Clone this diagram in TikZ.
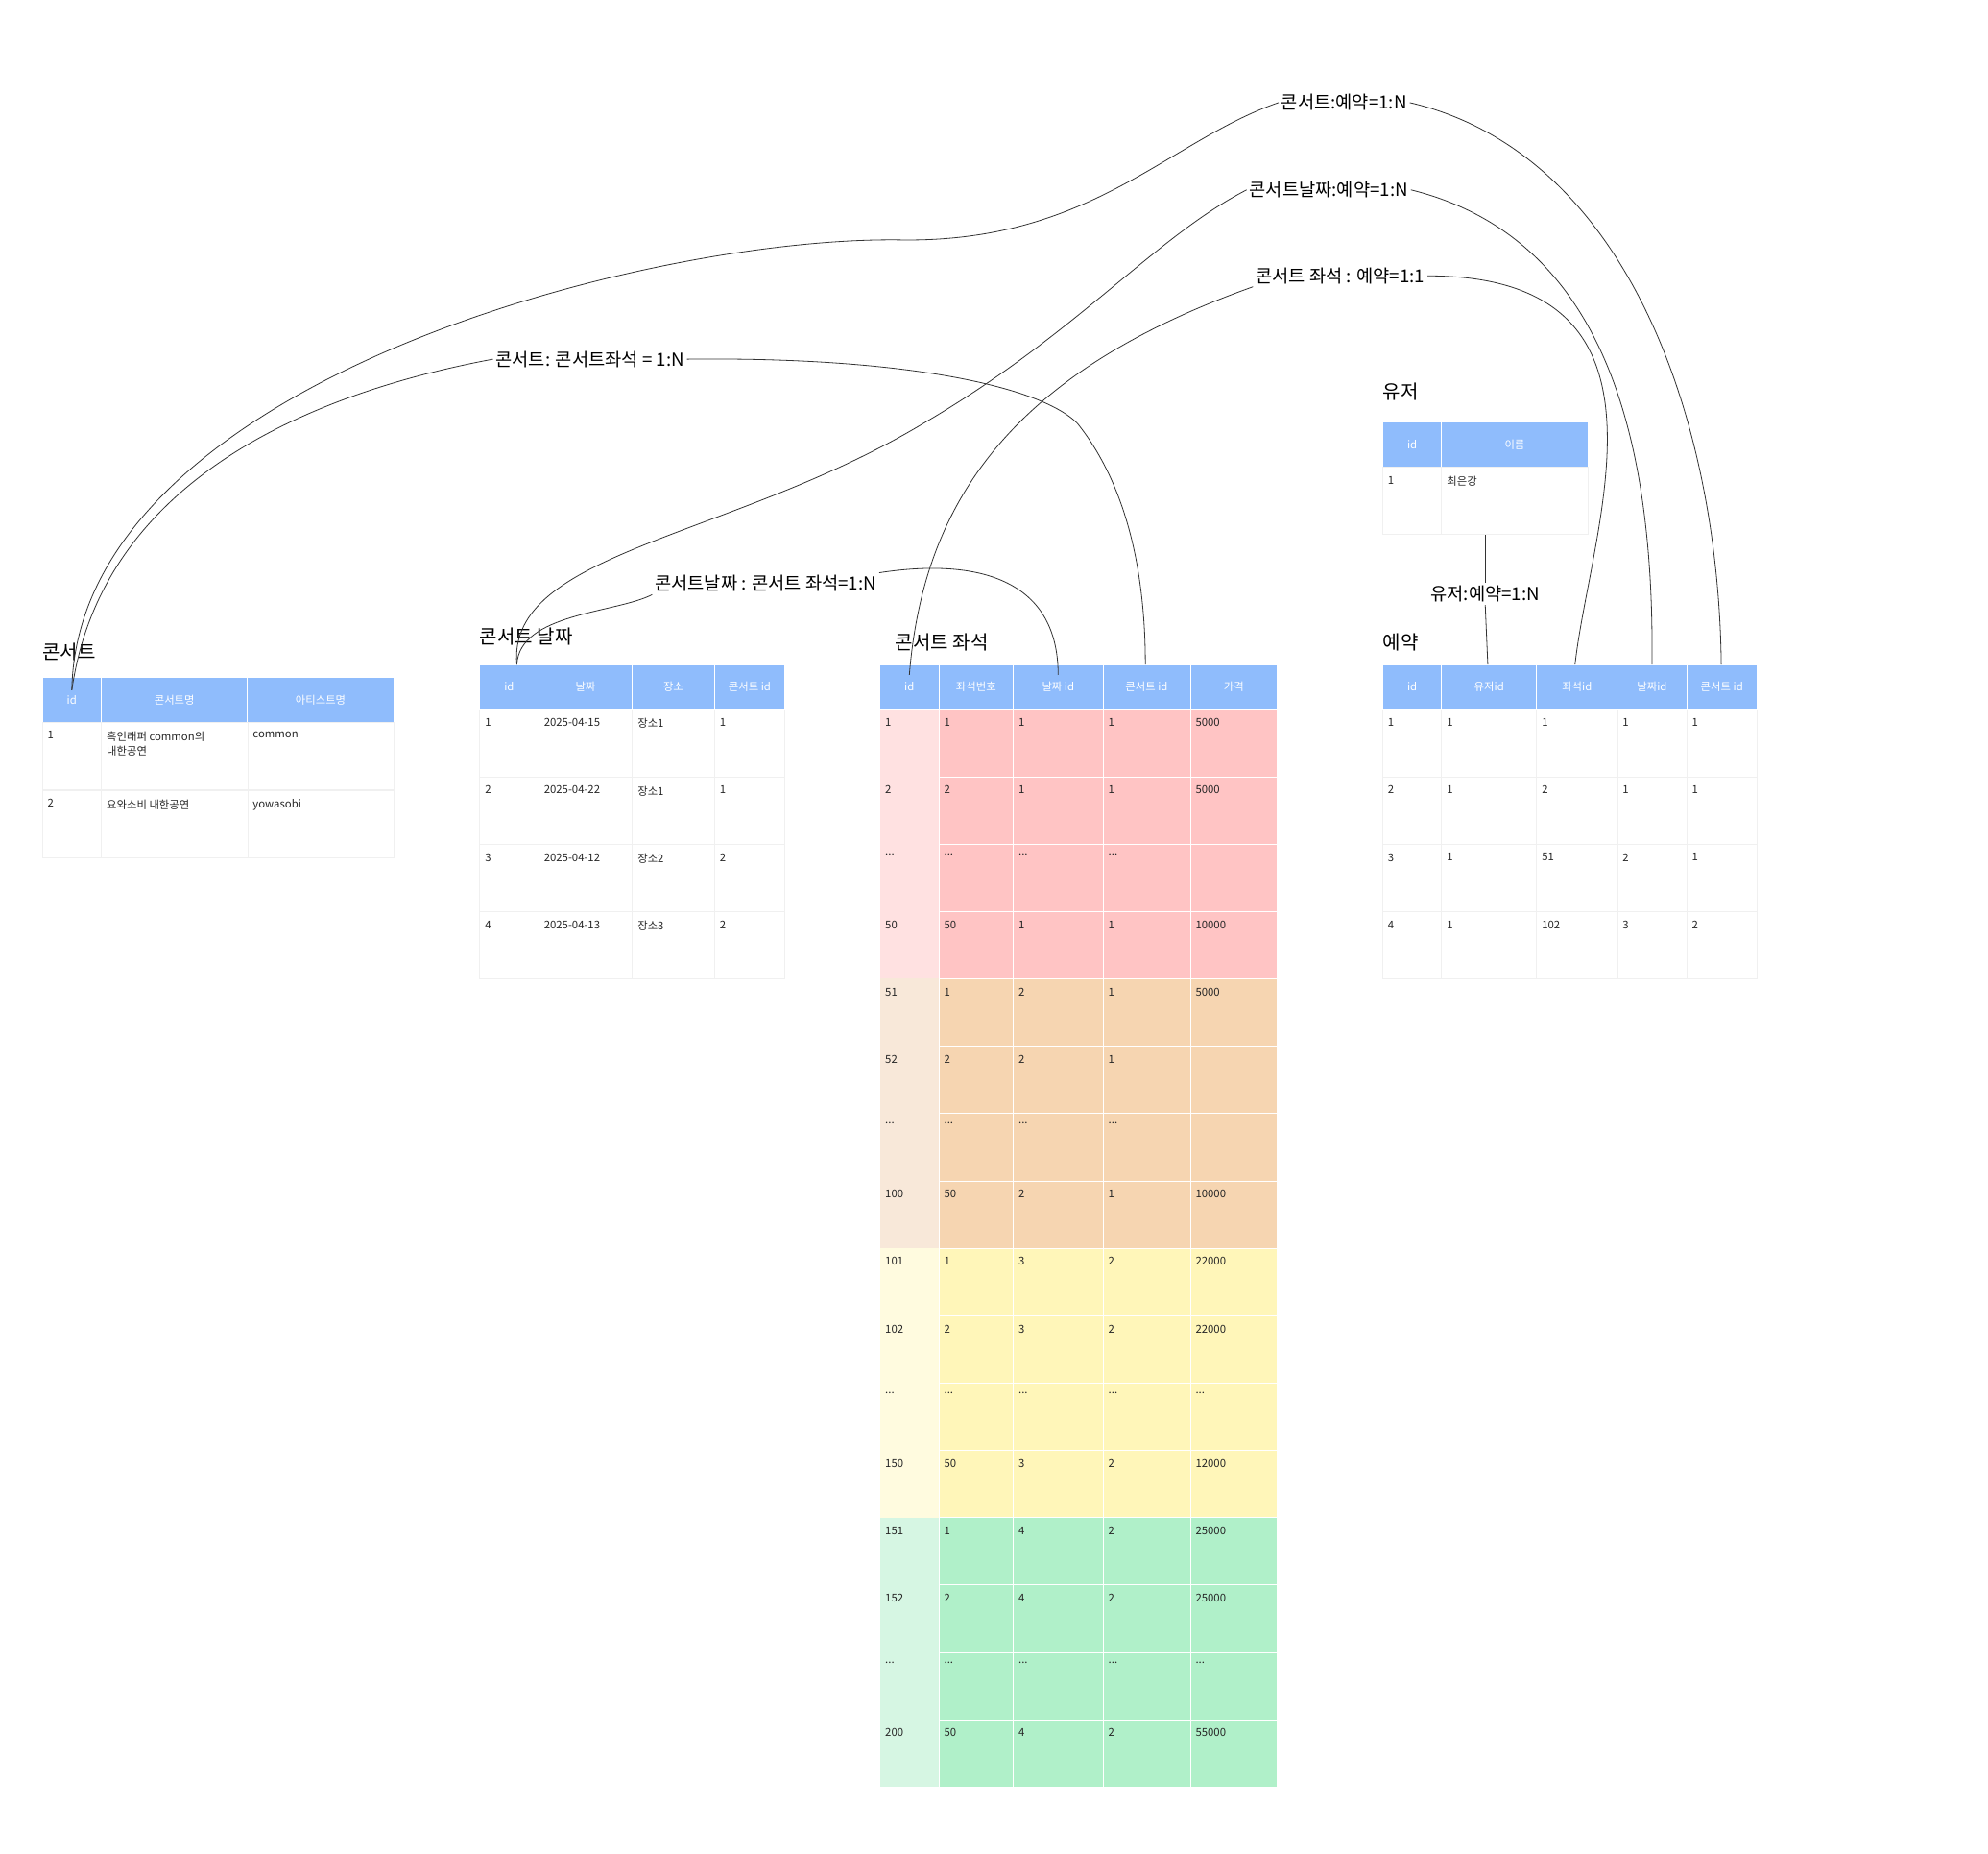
\documentclass[tikz,border=0pt]{standalone}
\usepackage{fontspec}
\setmainfont{Noto Sans CJK KR}
\newcommand\dotsx{...}
\begin{document}
\begin{tikzpicture}[x=1pt,y=-1pt,
  hdr/.style={fill=hd,draw=white,line width=0.6pt},
  cell/.style={draw=gl,line width=0.5pt},
  ctext/.style={anchor=north west,font=\fontsize{8.5}{11}\selectfont,inner sep=0pt,align=left,text=black!85},
  htext/.style={font=\fontsize{8.5}{10}\selectfont,text=white,inner sep=0pt},
  ttl/.style={anchor=south west,font=\fontsize{15}{17}\selectfont,inner sep=0pt},
  lbl/.style={font=\fontsize{14}{16}\selectfont,inner sep=2pt},
  rel/.style={draw=black!80,line width=0.6pt}]
\definecolor{hd}{HTML}{8FBCFC}
\definecolor{gl}{HTML}{F0F0F0}
\definecolor{r1}{HTML}{FFC4C4}\definecolor{r0}{HTML}{FFE1E1}
\definecolor{o1}{HTML}{F6D5B1}\definecolor{o0}{HTML}{F8E8D9}
\definecolor{y1}{HTML}{FFF6B9}\definecolor{y0}{HTML}{FFFBDF}
\definecolor{g1}{HTML}{B0F0C9}\definecolor{g0}{HTML}{D6F6E3}
\useasboundingbox (0,0) rectangle (1550,1445);

% ---------- 콘서트 ----------
\node[ttl] (t1) at (33,515) {콘서트};
\foreach \a/\b/\l [count=\i] in {33/79/id,79/193/콘서트명,193/307/아티스트명}{
  \draw[hdr] (\a,528) rectangle (\b,563);
  \node[htext] (c1h\i) at ({(\a+\b)/2},545.5) {\l};}
\foreach \y/\p/\q/\r [count=\i] in {563/1/{흑인래퍼 common의\\내한공연}/common,616/2/요와소비 내한공연/yowasobi}{
  \foreach \a/\b in {33/79,79/193,193/307}{\draw[cell] (\a,\y) rectangle (\b,\y+52.5);}
  \node[ctext] (c1a\i) at (37,\y+7) {\p};
  \node[ctext] (c1b\i) at (83,\y+7) {\q};
  \node[ctext] (c1c\i) at (197,\y+7) {\r};}

% ---------- 콘서트 날짜 ----------
\node[ttl] (t2) at (374,503) {콘서트 날짜};
\foreach \a/\b/\l [count=\i] in {374/420/id,420/493/날짜,493/557/장소,557/612/콘서트 id}{
  \draw[hdr] (\a,518) rectangle (\b,553);
  \node[htext] (c2h\i) at ({(\a+\b)/2},535.5) {\l};}
\foreach \p/\q/\r/\s [count=\i] in {1/2025-04-15/장소1/1,2/2025-04-22/장소1/1,3/2025-04-12/장소2/2,4/2025-04-13/장소3/2}{
  \pgfmathsetmacro\y{553+(\i-1)*52.5}
  \foreach \a/\b in {374/420,420/493,493/557,557/612}{\draw[cell] (\a,\y) rectangle (\b,\y+52.5);}
  \node[ctext] (c2a\i) at (378,\y+7) {\p};
  \node[ctext] (c2b\i) at (424,\y+7) {\q};
  \node[ctext] (c2c\i) at (497,\y+7) {\r};
  \node[ctext] (c2d\i) at (561,\y+7) {\s};}

% ---------- 콘서트 좌석 ----------
\node[ttl] (t3) at (698,508) {콘서트 좌석};
\foreach \a/\b/\l [count=\i] in {686/732/id,732/790/좌석번호,790/860/날짜 id,860/928/콘서트 id,928/996/가격}{
  \draw[hdr] (\a,518) rectangle (\b,553);
  \node[htext] (c3h\i) at ({(\a+\b)/2},535.5) {\l};}
\foreach \p/\q/\r/\s/\v/\ca/\cb [count=\i] in {
  1/1/1/1/5000/r0/r1, 2/2/1/1/5000/r0/r1, \dotsx/\dotsx/\dotsx/\dotsx/{}/r0/r1, 50/50/1/1/10000/r0/r1,
  51/1/2/1/5000/o0/o1, 52/2/2/1/{}/o0/o1, \dotsx/\dotsx/\dotsx/\dotsx/{}/o0/o1, 100/50/2/1/10000/o0/o1,
  101/1/3/2/22000/y0/y1, 102/2/3/2/22000/y0/y1, \dotsx/\dotsx/\dotsx/\dotsx/\dotsx/y0/y1, 150/50/3/2/12000/y0/y1,
  151/1/4/2/25000/g0/g1, 152/2/4/2/25000/g0/g1, \dotsx/\dotsx/\dotsx/\dotsx/\dotsx/g0/g1, 200/50/4/2/55000/g0/g1}{
  \pgfmathsetmacro\y{553+(\i-1)*52.5}
  \fill[\ca] (686,\y) rectangle (732,\y+52.5);
  \fill[\cb] (732,\y) rectangle (996,\y+52.5);
  \foreach \a/\b in {732/790,790/860,860/928,928/996}{\draw[white,line width=0.5pt] (\a,\y) rectangle (\b,\y+52.5);}
  \node[ctext] (c3a\i) at (690,\y+7) {\p};
  \node[ctext] (c3b\i) at (736,\y+7) {\q};
  \node[ctext] (c3c\i) at (794,\y+7) {\r};
  \node[ctext] (c3d\i) at (864,\y+7) {\s};
  \node[ctext] (c3e\i) at (932,\y+7) {\v};}

% ---------- 유저 ----------
\node[ttl] (t4) at (1078,312) {유저};
\foreach \a/\b/\l [count=\i] in {1078/1124/id,1124/1238/이름}{
  \draw[hdr] (\a,329) rectangle (\b,364);
  \node[htext] (c4h\i) at ({(\a+\b)/2},346.5) {\l};}
\foreach \a/\b in {1078/1124,1124/1238}{\draw[cell] (\a,364) rectangle (\b,416);}
\node[ctext] (c4a1) at (1082,371) {1};
\node[ctext] (c4b1) at (1128,371) {최은강};
\coordinate (ub) at (1158,417);

% ---------- 예약 ----------
\node[ttl] (t5) at (1078,508) {예약};
\foreach \a/\b/\l [count=\i] in {1078/1124/id,1124/1198/유저id,1198/1261/좌석id,1261/1315/날짜id,1315/1370/콘서트 id}{
  \draw[hdr] (\a,518) rectangle (\b,553);
  \node[htext] (c5h\i) at ({(\a+\b)/2},535.5) {\l};}
\foreach \p/\q/\r/\s/\v [count=\i] in {1/1/1/1/1,2/1/2/1/1,3/1/51/2/1,4/1/102/3/2}{
  \pgfmathsetmacro\y{553+(\i-1)*52.5}
  \foreach \a/\b in {1078/1124,1124/1198,1198/1261,1261/1315,1315/1370}{\draw[cell] (\a,\y) rectangle (\b,\y+52.5);}
  \node[ctext] (c5a\i) at (1082,\y+7) {\p};
  \node[ctext] (c5b\i) at (1128,\y+7) {\q};
  \node[ctext] (c5c\i) at (1202,\y+7) {\r};
  \node[ctext] (c5d\i) at (1265,\y+7) {\s};
  \node[ctext] (c5e\i) at (1319,\y+7) {\v};}

% ---------- labels ----------
\node[lbl] (L1) at (1048,80) {콘서트:예약=1:N};
\node[lbl] (L2) at (1036,148) {콘서트날짜:예약=1:N};
\node[lbl] (L3) at (1045,215) {콘서트 좌석 : 예약=1:1};
\node[lbl] (L4) at (460,280) {콘서트: 콘서트좌석 = 1:N};
\node[lbl] (L5) at (597,455) {콘서트날짜 : 콘서트 좌석=1:N};
\node[lbl] (L6) at (1158,463) {유저:예약=1:N};

% ---------- anchors ----------
\coordinate (a1) at (56,538);
\coordinate (a2) at (403,518);
\coordinate (a3) at (709,526);
\coordinate (a3d) at (825,526);
\coordinate (a3c) at (893,518);
\coordinate (a5u) at (1160,518);
\coordinate (a5s) at (1228,518);
\coordinate (a5d) at (1288,518);
\coordinate (a5c) at (1342,518);

% ---------- connectors ----------
\draw[rel] (a1) .. controls (60,300) and (500,185) .. (700,187) .. controls (850,190) and (910,110) .. (L1.west);
\draw[rel] (L1.east) .. controls (1270,120) and (1340,330) .. (a5c);
\draw[rel] (a2) .. controls (395,430) and (570,420) .. (720,330) .. controls (840,260) and (900,185) .. (L2.west);
\draw[rel] (L2.east) .. controls (1250,185) and (1290,340) .. (a5d);
\draw[rel] (a3) .. controls (720,390) and (790,290) .. (L3.south west);
\draw[rel] (L3.east) .. controls (1320,215) and (1240,410) .. (a5s);
\draw[rel] (a1) .. controls (80,370) and (250,305) .. (L4.west);
\draw[rel] (L4.east) .. controls (700,278) and (810,300) .. (840,330) .. controls (880,380) and (893,450) .. (a3c);
\draw[rel] (a2) .. controls (405,478) and (480,478) .. (L5.south west);
\draw[rel] (L5.north east) .. controls (760,435) and (825,450) .. (a3d);
\draw[rel] (ub) -- (L6.north);
\draw[rel] (L6.south) -- (a5u);
\end{tikzpicture}
\end{document}
